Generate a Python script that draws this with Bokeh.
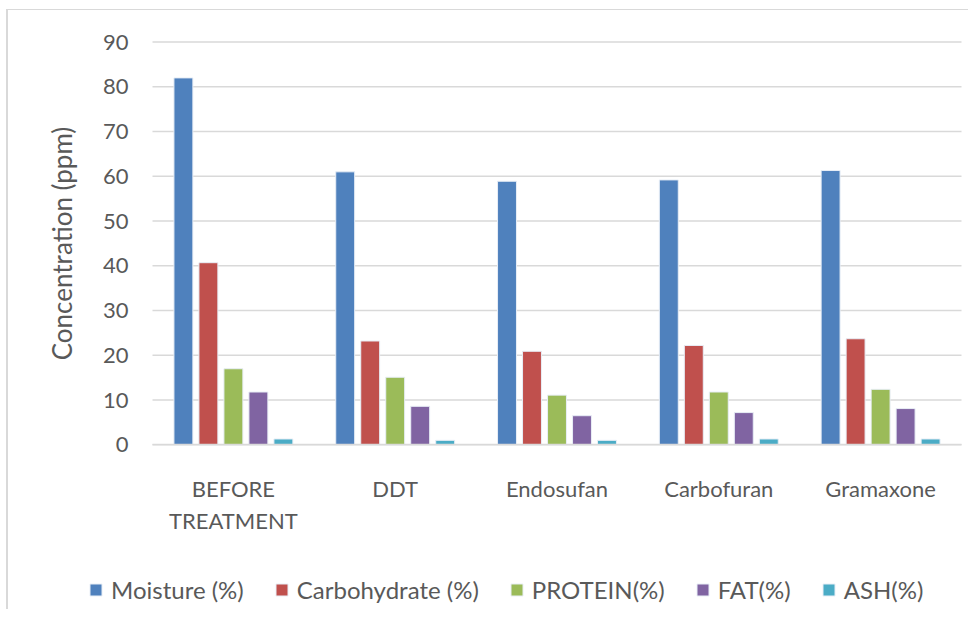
from bokeh.plotting import figure
from bokeh.models import Range1d, Legend, LegendItem, FixedTicker, ColumnDataSource
from bokeh.transform import dodge
from bokeh.embed import file_html
from bokeh.resources import INLINE

categories = ["BEFORE\nTREATMENT", "DDT", "Endosufan", "Carbofuran", "Gramaxone"]
series_names = ["Moisture (%)", "Carbohydrate (%)", "PROTEIN(%)", "FAT(%)", "ASH(%)"]
moisture = [82.0, 61.0, 58.9, 59.2, 61.3]
carbohydrate = [40.7, 23.2, 20.9, 22.2, 23.7]
protein = [17.0, 15.1, 11.1, 11.8, 12.4]
fat = [11.8, 8.6, 6.5, 7.2, 8.1]
ash = [1.3, 1.0, 1.0, 1.3, 1.3]
y_ticks = [0, 10, 20, 30, 40, 50, 60, 70, 80, 90]

colors = ["#4F81BD", "#C0504D", "#9BBB59", "#8064A2", "#4BACC6"]
keys = ["moisture", "carbohydrate", "protein", "fat", "ash"]
xpos = list(range(len(categories)))
source = ColumnDataSource(dict(x=xpos, moisture=moisture, carbohydrate=carbohydrate,
                               protein=protein, fat=fat, ash=ash))

FONT = "Lato"
TXT = "#595959"
GRID = "#d9d9d9"
W, H = 962, 600
# frame covers the whole canvas; the category block spans canvas x 144..953, value 0..90 spans y 434.3..31.6
ux = 809 / len(categories)
uy = 402.7 / 90
x_lo = -0.5 - 144 / ux
x_hi = len(categories) - 0.5 + (W - 953) / ux
y_hi = 90 + 31.6 / uy
y_lo = -(H - 434.3) / uy

p = figure(width=W, height=H, x_range=Range1d(x_lo, x_hi), y_range=Range1d(y_lo, y_hi),
           output_backend="svg", toolbar_location=None,
           min_border_left=0, min_border_right=0, min_border_top=0, min_border_bottom=0)
p.margin = (10, 0, 0, 8)
p.styles = {"box-shadow": "-2px -1px 0 0 #d9d9d9"}
p.outline_line_color = None
p.background_fill_color = "white"
p.border_fill_color = "white"
p.grid.visible = False

# horizontal gridlines across the category block only
p.segment(x0=-0.5, x1=len(categories) - 0.5, y0=y_ticks, y1=y_ticks,
          line_color=GRID, line_width=1.5)

step = 0.1545
offsets = [-2 * step, -step, 0, step, 2 * step]
renderers = []
for k, c, off in zip(keys, colors, offsets):
    r = p.vbar(x=dodge("x", off), top=k, width=0.117, source=source,
               fill_color=c, line_color="#e8eef6", line_width=1)
    renderers.append(r)

ya = p.yaxis[0]
ya.fixed_location = -0.5
ya.bounds = (0, 90)
ya.ticker = FixedTicker(ticks=y_ticks)
ya.axis_line_color = None
ya.major_tick_line_color = None
ya.major_tick_out = 0
ya.minor_tick_line_color = None
ya.minor_tick_out = 0
ya.major_label_text_font = FONT
ya.major_label_text_font_size = "22px"
ya.major_label_text_color = TXT
ya.major_label_standoff = 24
ya.axis_label = "Concentration (ppm)"
ya.axis_label_text_font = FONT
ya.axis_label_text_font_size = "26px"
ya.axis_label_text_font_style = "normal"
ya.axis_label_text_color = TXT
ya.axis_label_standoff = 22

xa = p.xaxis[0]
xa.fixed_location = 0
xa.bounds = (-0.5, len(categories) - 0.5)
xa.ticker = FixedTicker(ticks=xpos)
xa.major_label_overrides = {i: c for i, c in zip(xpos, categories)}
xa.axis_line_color = GRID
xa.axis_line_width = 1.5
xa.major_tick_line_color = None
xa.major_tick_out = 0
xa.minor_tick_line_color = None
xa.minor_tick_out = 0
xa.major_label_text_font = FONT
xa.major_label_text_font_size = "22px"
xa.major_label_text_color = TXT
xa.major_label_standoff = 30

legend = Legend(items=[LegendItem(label=n, renderers=[r]) for n, r in zip(series_names, renderers)],
                orientation="horizontal", location=(80, 6), border_line_color=None,
                background_fill_alpha=0, padding=0, margin=0, spacing=30,
                glyph_width=15, glyph_height=15, label_standoff=8,
                label_text_font=FONT, label_text_font_size="24px", label_text_color=TXT)
p.add_layout(legend, "center")

open("out.html", "w").write(file_html(p, INLINE))
